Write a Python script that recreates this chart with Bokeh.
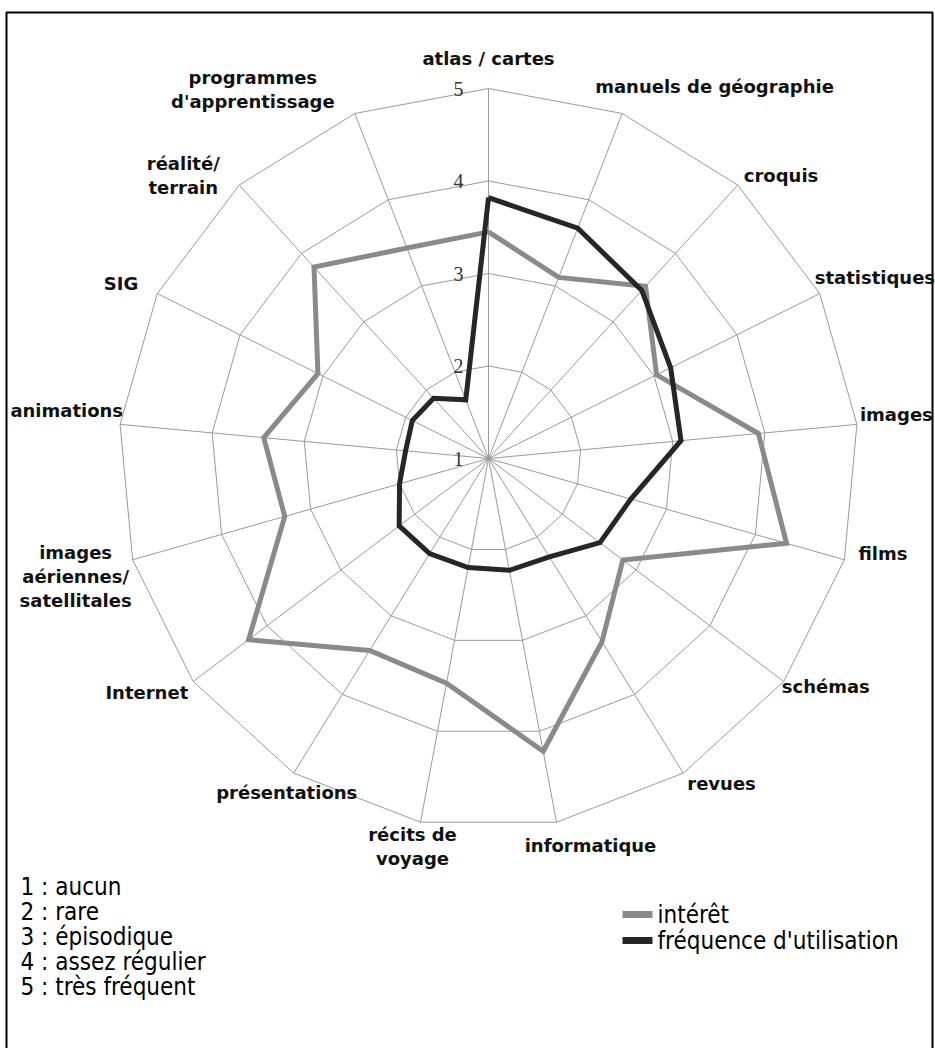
import math
from bokeh.plotting import figure
from bokeh.models import Range1d
from bokeh.core.properties import value
from bokeh.embed import file_html
from bokeh.resources import INLINE

# ---------------- data ----------------
categories = [
    ["atlas / cartes"],
    ["manuels de géographie"],
    ["croquis"],
    ["statistiques"],
    ["images"],
    ["films"],
    ["schémas"],
    ["revues"],
    ["informatique"],
    ["récits de", "voyage"],
    ["présentations"],
    ["Internet"],
    ["images", "aériennes/", "satellitales"],
    ["animations"],
    ["SIG"],
    ["réalité/", "terrain"],
    ["programmes", "d'apprentissage"],
]
interet = [3.45, 3.10, 3.52, 3.03, 3.93, 4.35, 2.82, 3.33, 4.22, 3.47,
           3.44, 4.25, 3.29, 3.44, 3.06, 3.80, 3.44]
frequence = [3.82, 3.67, 3.46, 3.20, 3.09, 2.60, 2.51, 2.25, 2.23, 2.20,
             2.21, 2.21, 2.00, 1.90, 1.92, 1.88, 1.68]
levels = [1, 2, 3, 4, 5]
level_labels = ["1", "2", "3", "4", "5"]
scale_legend = ["1 : aucun", "2 : rare", "3 : épisodique", "4 : assez régulier", "5 : très fréquent"]
series_names = ["intérêt", "fréquence d'utilisation"]

# ---------------- layout ----------------
W, H = 935, 1048
CX, CY = 488, 458          # centre of the radar in canvas pixels
S = 92.5                   # pixels per level
n = len(categories)
theta = [2 * math.pi * k / n for k in range(n)]
rmax = levels[-1] - levels[0]

def px(d):
    return d / S

def X(cx):
    return (cx - CX) / S

def Y(cy):
    return (CY - cy) / S

# label layout: (align, dx px, dy px [down]) relative to the outer vertex
label_layout = [
    ("center", 0, -30),
    ("left", -27, -27),
    ("left", 6, -10),
    ("left", -5, -16),
    ("left", 3, -10),
    ("left", 14, -6),
    ("left", -2, 5),
    ("left", 4, 10),
    ("center", 34, 23),
    ("center", -8, 24),
    ("center", -7, 19),
    ("right", -5, 11),
    ("center", -57, 17),
    ("right", 3, -14),
    ("right", -19, -10),
    ("center", -56, -10),
    ("center", -102, -24),
]
LINE_H = 24
LEGEND_FONT = "DejaVu Sans Condensed"

p = figure(width=W, height=H,
           x_range=Range1d(X(0), X(W)),
           y_range=Range1d(Y(H), Y(0)),
           x_axis_location=None, y_axis_location=None,
           output_backend="svg", toolbar_location=None, min_border=0)
p.grid.visible = False
p.outline_line_color = None
p.background_fill_color = "white"
p.border_fill_color = "white"

# frame border
p.quad(left=[X(6)], right=[X(932)], top=[Y(12)], bottom=[Y(H + 60)],
       fill_color=None, line_color="black", line_width=2)

# grid rings
ring_xs, ring_ys = [], []
for lv in levels[1:]:
    r = lv - levels[0]
    xs = [r * math.sin(t) for t in theta] + [0]
    ys = [r * math.cos(t) for t in theta] + [r]
    ring_xs.append(xs)
    ring_ys.append(ys)
p.multi_line(ring_xs, ring_ys, line_color="#9a9a9a", line_width=1)

# spokes
p.segment(x0=[0] * n, y0=[0] * n,
          x1=[rmax * math.sin(t) for t in theta],
          y1=[rmax * math.cos(t) for t in theta],
          line_color="#9a9a9a", line_width=1)

# level numbers
p.text(x=[px(-25)] * len(levels), y=[lv - levels[0] for lv in levels], text=level_labels,
       text_align="right", text_baseline="middle", text_font=value("Liberation Serif"),
       text_font_size="20px", text_color="#333333")

# series
def closed_xy(vals):
    xs = [(v - levels[0]) * math.sin(t) for v, t in zip(vals, theta)]
    ys = [(v - levels[0]) * math.cos(t) for v, t in zip(vals, theta)]
    return xs + xs[:1], ys + ys[:1]

GRAY = "#8a8a8a"
DARK = "#262626"
gx, gy = closed_xy(interet)
p.line(gx, gy, line_color=GRAY, line_width=5, line_join="miter")
fx, fy = closed_xy(frequence)
p.line(fx, fy, line_color=DARK, line_width=5, line_join="miter")

# category labels
groups = {"left": ([], [], []), "center": ([], [], []), "right": ([], [], [])}
for k, lines in enumerate(categories):
    align, dx, dy = label_layout[k]
    vx = rmax * math.sin(theta[k]) + px(dx)
    vy = rmax * math.cos(theta[k]) - px(dy)
    m = len(lines)
    for i, ln in enumerate(lines):
        off = (i - (m - 1) / 2) * LINE_H
        g = groups[align]
        g[0].append(vx)
        g[1].append(vy - px(off))
        g[2].append(ln)
for align, (xs, ys, ts) in groups.items():
    if ts:
        p.text(x=xs, y=ys, text=ts, text_align=align, text_baseline="middle",
               text_font=value("DejaVu Sans"), text_font_style="bold",
               text_font_size="18px", text_color="#111111")

# scale legend (bottom left)
leg_y0 = 886
p.text(x=[X(20)] * len(scale_legend),
       y=[Y(leg_y0 + 25 * i) for i in range(len(scale_legend))],
       text=scale_legend, text_align="left", text_baseline="middle",
       text_font=value(LEGEND_FONT), text_font_size="24px", text_color="#000000")

# series legend (bottom right)
sw_x0, sw_x1 = 622, 652
sw_y = [914, 940]
for i, (name, col) in enumerate(zip(series_names, [GRAY, DARK])):
    p.segment(x0=[X(sw_x0)], y0=[Y(sw_y[i])], x1=[X(sw_x1)], y1=[Y(sw_y[i])],
              line_color=col, line_width=7)
    p.text(x=[X(sw_x1 + 5)], y=[Y(sw_y[i])], text=[name], text_align="left",
           text_baseline="middle", text_font=value(LEGEND_FONT),
           text_font_size="24px", text_color="#000000")

open("out.html", "w").write(file_html(p, INLINE))
